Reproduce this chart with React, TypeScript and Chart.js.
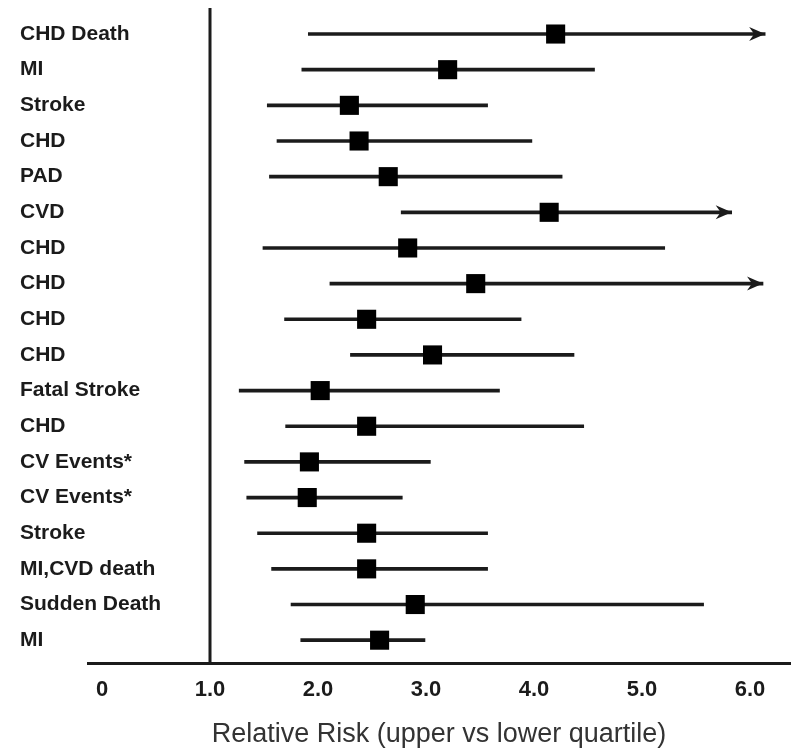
import React, { useEffect, useRef } from 'react';
import { Chart, registerables } from 'chart.js';

Chart.register(...registerables);

// ---- data ----
const outcomes = [
  'CHD Death', 'MI', 'Stroke', 'CHD', 'PAD', 'CVD', 'CHD', 'CHD', 'CHD',
  'CHD', 'Fatal Stroke', 'CHD', 'CV Events*', 'CV Events*', 'Stroke',
  'MI,CVD death', 'Sudden Death', 'MI',
];
const riskEstimate = [4.2, 3.2, 2.29, 2.38, 2.65, 4.14, 2.83, 3.46, 2.45, 3.06, 2.02, 2.45, 1.92, 1.9, 2.45, 2.45, 2.9, 2.57];
const lowerBound = [1.91, 1.85, 1.53, 1.62, 1.55, 2.77, 1.49, 2.11, 1.69, 2.3, 1.27, 1.7, 1.32, 1.34, 1.44, 1.57, 1.75, 1.84];
const upperBound = [6.14, 4.56, 3.57, 3.98, 4.26, 5.83, 5.21, 6.12, 3.88, 4.37, 3.68, 4.46, 3.04, 2.78, 3.57, 3.57, 5.57, 2.99];
const extendsBeyond = [true, false, false, false, false, true, false, true, false, false, false, false, false, false, false, false, false, false];
const xTickValues = [0, 1, 2, 3, 4, 5, 6];
const xTickLabels = ['0', '1.0', '2.0', '3.0', '4.0', '5.0', '6.0'];
const xAxisTitle = 'Relative Risk (upper vs lower quartile)';
const referenceRisk = 1.0;

const INK = '#1b1b1b';
const FONT = '"Liberation Sans", Arial, Helvetica, sans-serif';

const forestExtras = {
  id: 'forestExtras',
  beforeDatasetsDraw(chart: any) {
    const { ctx, chartArea, scales } = chart;
    const px = Math.round(scales.x.getPixelForValue(referenceRisk));
    ctx.save();
    ctx.strokeStyle = INK;
    ctx.lineWidth = 3;
    ctx.beginPath();
    ctx.moveTo(px, chartArea.top);
    ctx.lineTo(px, chartArea.bottom);
    ctx.stroke();
    ctx.restore();
  },
  afterDatasetsDraw(chart: any) {
    const { ctx, scales } = chart;
    ctx.save();
    ctx.fillStyle = INK;
    extendsBeyond.forEach((flag, i) => {
      if (!flag) return;
      const tx = scales.x.getPixelForValue(upperBound[i]);
      const ty = scales.y.getPixelForValue(i);
      ctx.beginPath();
      ctx.moveTo(tx, ty);
      ctx.lineTo(tx - 16, ty - 7);
      ctx.lineTo(tx - 11, ty);
      ctx.lineTo(tx - 16, ty + 7);
      ctx.closePath();
      ctx.fill();
    });
    ctx.restore();
  },
};

export default function App() {
  const canvasRef = useRef<HTMLCanvasElement | null>(null);

  useEffect(() => {
    if (!canvasRef.current) return;
    const chart = new Chart(canvasRef.current, {
      type: 'scatter',
      data: {
        datasets: [
          {
            type: 'scatter',
            order: 0,
            clip: false,
            data: riskEstimate.map((v, i) => ({ x: v, y: i })),
            pointStyle: 'rect',
            pointRadius: 13.5,
            pointHoverRadius: 13.5,
            backgroundColor: '#000',
            borderWidth: 0,
          } as any,
          {
            type: 'bar',
            order: 1,
            indexAxis: 'y',
            data: outcomes.map((_, i) => ({ y: i, x: [lowerBound[i], upperBound[i]] })),
            backgroundColor: INK,
            borderWidth: 0,
            barThickness: 3,
          } as any,
        ],
      },
      options: {
        animation: false,
        responsive: true,
        maintainAspectRatio: false,
        layout: { autoPadding: false, padding: { left: 19, right: 4, top: 8, bottom: 0 } },
        plugins: { legend: { display: false }, tooltip: { enabled: false } },
        scales: {
          x: {
            type: 'linear',
            offset: false,
            min: -0.13,
            max: 6.37,
            afterBuildTicks: (s: any) => {
              s.ticks = xTickValues.map((v) => ({ value: v }));
            },
            afterFit: (s: any) => {
              s.height = 85;
              s.paddingLeft = 0;
              s.paddingRight = 0;
            },
            grid: { display: false, drawTicks: false, offset: false },
            border: { display: true, color: INK, width: 3 },
            ticks: {
              padding: 14,
              color: INK,
              autoSkip: false,
              maxRotation: 0,
              font: { family: FONT, size: 22, weight: 'bold' },
              callback: (_v: any, i: number) => xTickLabels[i],
            },
            title: {
              display: true,
              text: xAxisTitle,
              color: '#333',
              padding: 0,
              font: { family: FONT, size: 27, lineHeight: 1 },
            },
          },
          y: {
            type: 'linear',
            offset: false,
            reverse: true,
            min: -0.73,
            max: 17.64,
            afterBuildTicks: (s: any) => {
              s.ticks = outcomes.map((_, i) => ({ value: i }));
            },
            afterFit: (s: any) => {
              s.width = 69;
              s.paddingTop = 0;
              s.paddingBottom = 0;
            },
            grid: { display: false, drawTicks: false, offset: false },
            border: { display: false },
            ticks: {
              mirror: true,
              crossAlign: 'near',
              padding: -68,
              autoSkip: false,
              color: INK,
              font: { family: FONT, size: 21, weight: 'bold' },
              callback: (_v: any, i: number) => outcomes[i],
            },
          },
        },
      } as any,
      plugins: [forestExtras],
    });
    return () => chart.destroy();
  }, []);

  return (
    <div style={{ position: 'absolute', left: 0, top: 0, width: 794, height: 748, background: '#fff' }}>
      <canvas ref={canvasRef} />
    </div>
  );
}
